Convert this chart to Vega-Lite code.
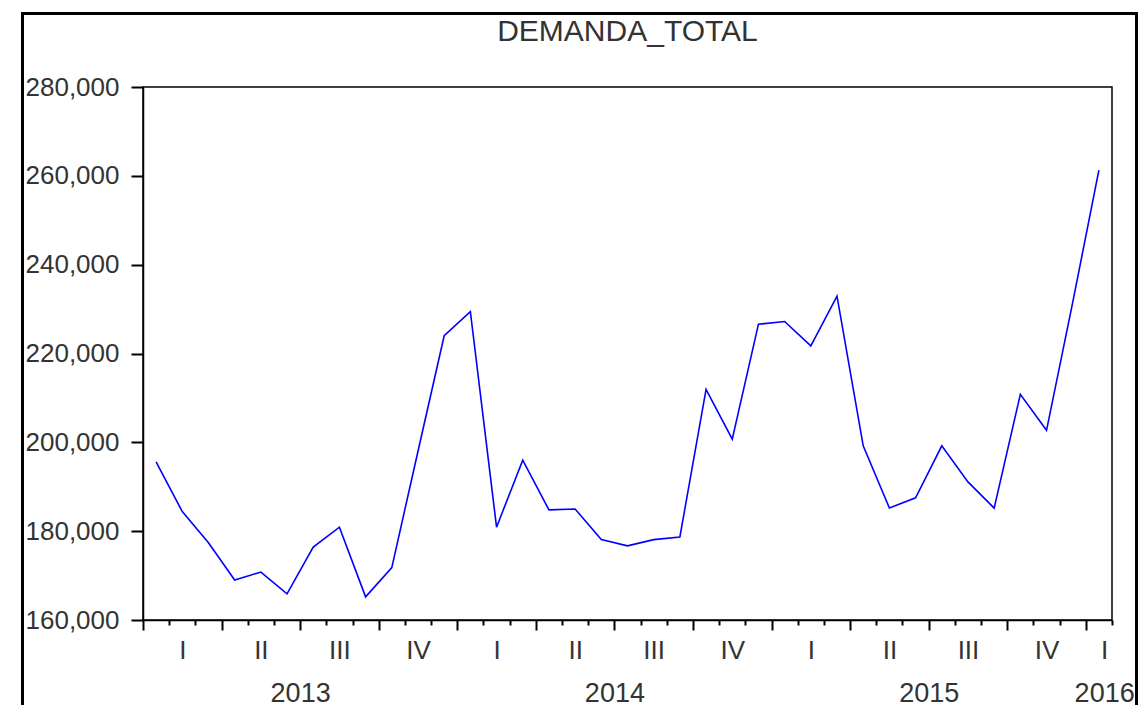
{
  "$schema": "https://vega.github.io/schema/vega-lite/v6.json",
  "width": 969,
  "height": 533,
  "autosize": "none",
  "padding": {"left": 143, "top": 87, "right": 27, "bottom": 85},
  "background": "white",
  "config": {
    "font": "Liberation Sans",
    "view": {"stroke": "#000000", "strokeWidth": 1.5},
    "axis": {"grid": false, "domainColor": "#000000", "domainWidth": 1.5, "tickColor": "#000000", "tickWidth": 2, "labelFont": "Liberation Sans", "labelColor": "#333333", "labelFontSize": 26, "title": null}
  },
  "title": {"text": "DEMANDA_TOTAL", "font": "Liberation Sans", "fontSize": 30, "fontWeight": "normal", "color": "#333333", "offset": -35},
  "data": {"values": [
    {"mes": 0, "fecha": "2013-01", "demanda": 195600},
    {"mes": 1, "fecha": "2013-02", "demanda": 184400},
    {"mes": 2, "fecha": "2013-03", "demanda": 177400},
    {"mes": 3, "fecha": "2013-04", "demanda": 169000},
    {"mes": 4, "fecha": "2013-05", "demanda": 170800},
    {"mes": 5, "fecha": "2013-06", "demanda": 165900},
    {"mes": 6, "fecha": "2013-07", "demanda": 176400},
    {"mes": 7, "fecha": "2013-08", "demanda": 180900},
    {"mes": 8, "fecha": "2013-09", "demanda": 165200},
    {"mes": 9, "fecha": "2013-10", "demanda": 171800},
    {"mes": 10, "fecha": "2013-11", "demanda": 198000},
    {"mes": 11, "fecha": "2013-12", "demanda": 224000},
    {"mes": 12, "fecha": "2014-01", "demanda": 229400},
    {"mes": 13, "fecha": "2014-02", "demanda": 180900},
    {"mes": 14, "fecha": "2014-03", "demanda": 196000},
    {"mes": 15, "fecha": "2014-04", "demanda": 184800},
    {"mes": 16, "fecha": "2014-05", "demanda": 185000},
    {"mes": 17, "fecha": "2014-06", "demanda": 178100},
    {"mes": 18, "fecha": "2014-07", "demanda": 176700},
    {"mes": 19, "fecha": "2014-08", "demanda": 178100},
    {"mes": 20, "fecha": "2014-09", "demanda": 178700},
    {"mes": 21, "fecha": "2014-10", "demanda": 211900},
    {"mes": 22, "fecha": "2014-11", "demanda": 200700},
    {"mes": 23, "fecha": "2014-12", "demanda": 226600},
    {"mes": 24, "fecha": "2015-01", "demanda": 227200},
    {"mes": 25, "fecha": "2015-02", "demanda": 221700},
    {"mes": 26, "fecha": "2015-03", "demanda": 232900},
    {"mes": 27, "fecha": "2015-04", "demanda": 199200},
    {"mes": 28, "fecha": "2015-05", "demanda": 185200},
    {"mes": 29, "fecha": "2015-06", "demanda": 187500},
    {"mes": 30, "fecha": "2015-07", "demanda": 199200},
    {"mes": 31, "fecha": "2015-08", "demanda": 191100},
    {"mes": 32, "fecha": "2015-09", "demanda": 185200},
    {"mes": 33, "fecha": "2015-10", "demanda": 210800},
    {"mes": 34, "fecha": "2015-11", "demanda": 202700},
    {"mes": 35, "fecha": "2015-12", "demanda": 231500},
    {"mes": 36, "fecha": "2016-01", "demanda": 261300}
  ]},
  "resolve": {"axis": {"x": "independent"}},
  "layer": [
    {
      "mark": {"type": "line", "color": "#0000FF", "strokeWidth": 1.6},
      "encoding": {
        "x": {
          "field": "mes", "type": "quantitative",
          "scale": {"domain": [-0.5, 36.5], "nice": false, "zero": false},
          "axis": {
            "orient": "bottom",
            "values": [-0.5, 0.5, 1.5, 2.5, 3.5, 4.5, 5.5, 6.5, 7.5, 8.5, 9.5, 10.5, 11.5, 12.5, 13.5, 14.5, 15.5, 16.5, 17.5, 18.5, 19.5, 20.5, 21.5, 22.5, 23.5, 24.5, 25.5, 26.5, 27.5, 28.5, 29.5, 30.5, 31.5, 32.5, 33.5, 34.5, 35.5, 36.5],
            "labels": false,
            "tickSize": {"condition": {"test": "(datum.value + 0.5) % 3 === 0", "value": 10}, "value": 5}
          }
        },
        "y": {
          "field": "demanda", "type": "quantitative",
          "scale": {"domain": [160000, 280000], "nice": false, "zero": false},
          "axis": {"orient": "left", "values": [160000, 180000, 200000, 220000, 240000, 260000, 280000], "labelExpr": "format(datum.value, ',')", "tickSize": 12, "labelPadding": 12}
        }
      }
    },
    {
      "mark": {"type": "point", "opacity": 0},
      "encoding": {
        "x": {
          "field": "mes", "type": "quantitative",
          "axis": {
            "orient": "bottom",
            "values": [1, 4, 7, 10, 13, 16, 19, 22, 25, 28, 31, 34, 36.2],
            "domain": false, "ticks": false, "tickSize": 0, "labelPadding": 17.5, "labelBaseline": "top",
            "labelExpr": "['I','II','III','IV'][floor(datum.value / 3) % 4]",
            "labelFlush": false, "labelOverlap": false
          }
        }
      }
    },
    {
      "mark": {"type": "point", "opacity": 0},
      "encoding": {
        "x": {
          "field": "mes", "type": "quantitative",
          "axis": {
            "orient": "bottom",
            "values": [5.5, 17.5, 29.5, 36.2],
            "domain": false, "ticks": false, "tickSize": 0, "labelPadding": 60, "labelBaseline": "top", "labelFontSize": 27,
            "labelExpr": "'' + (2013 + floor(datum.value / 12))",
            "labelFlush": false, "labelOverlap": false
          }
        }
      }
    },
    {
      "mark": {"type": "rect", "fill": null, "fillOpacity": 0, "stroke": "#000000", "strokeWidth": 2, "clip": false},
      "encoding": {
        "x": {"datum": -5.09, "type": "quantitative", "axis": null},
        "x2": {"datum": 37.45},
        "y": {"datum": 296600, "type": "quantitative",
          "axis": {"orient": "left", "values": [160000, 180000, 200000, 220000, 240000, 260000, 280000], "labelExpr": "format(datum.value, ',')", "tickSize": 12, "labelPadding": 12}},
        "y2": {"datum": 120000}
      }
    }
  ]
}
